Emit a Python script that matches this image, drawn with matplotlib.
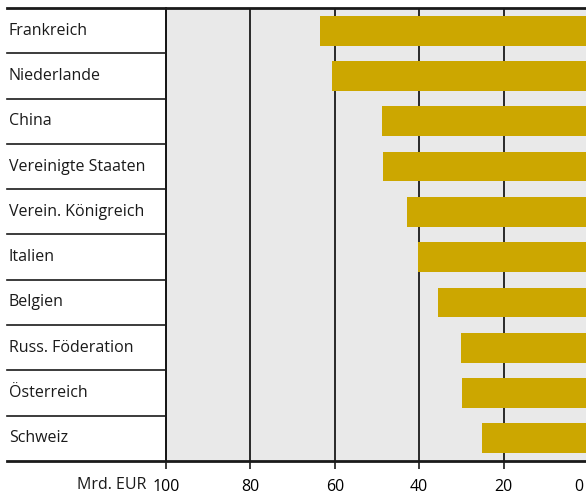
import matplotlib
matplotlib.use("Agg")
import matplotlib.pyplot as plt
from matplotlib.transforms import blended_transform_factory, ScaledTranslation

plt.rcParams["font.family"] = ["Open Sans", "DejaVu Sans"]

countries = [
    "Frankreich",
    "Niederlande",
    "China",
    "Vereinigte Staaten",
    "Verein. Königreich",
    "Italien",
    "Belgien",
    "Russ. Föderation",
    "Österreich",
    "Schweiz",
]
values = [63.5, 60.7, 48.8, 48.6, 42.9, 40.3, 35.5, 30.1, 29.9, 25.1]
ticks = [100, 80, 60, 40, 20, 0]
unit = "Mrd. EUR"

bar_color = "#cca700"
bg_color = "#e9e9e9"

fig = plt.figure(figsize=(5.86, 4.94), dpi=100)
ax = fig.add_axes([166 / 586, 1 - 461 / 494, 422 / 586, 453 / 494])
ax.set_facecolor(bg_color)

y = list(range(len(countries)))
ax.barh(y, values, height=0.66, color=bar_color, zorder=3)

ax.set_xlim(100, 0)
ax.set_ylim(len(countries) - 0.5, -0.5)

#
# grid and spines
#
for t in ticks[1:-1]:
    ax.axvline(t, color="#1a1a1a", lw=1.3, zorder=2)

ax.spines["right"].set_visible(False)
ax.spines["top"].set_visible(False)
ax.spines["bottom"].set_visible(False)
ax.spines["left"].set_linewidth(1.3)

ax.set_yticks([])
ax.set_xticks(ticks)
ax.set_xticklabels([str(t) for t in ticks], fontsize=11.5)
ax.tick_params(axis="x", length=6, width=1.2, color="#1a1a1a", pad=7)

# last label ("0") sits at the figure edge, nudge it inside
last = ax.get_xticklabels()[-1]
last.set_transform(last.get_transform() + ScaledTranslation(-9 / 100, 0, fig.dpi_scale_trans))

#
# label column with separator lines
#
trans = blended_transform_factory(fig.transFigure, ax.transData)
x0 = 7 / 586
for i in range(len(countries) + 1):
    yy = i - 0.5
    if i == 0 or i == len(countries):
        ax.plot([x0, 1], [yy, yy], color="#1a1a1a", lw=2.0,
                transform=trans, clip_on=False, zorder=5)
    else:
        ax.plot([x0, 166 / 586], [yy, yy], color="#1a1a1a", lw=1.2,
                transform=trans, clip_on=False, zorder=5)

for i, name in enumerate(countries):
    ax.text(9 / 586, i, name, transform=trans, ha="left", va="center",
            fontsize=11.5, color="#1a1a1a")

ax.annotate(unit, xy=(100, 0), xycoords=("data", "axes fraction"),
            xytext=(-20, -24), textcoords="offset pixels",
            ha="right", va="center", fontsize=11.5, color="#1a1a1a")

fig.savefig("out.png", dpi=100)
